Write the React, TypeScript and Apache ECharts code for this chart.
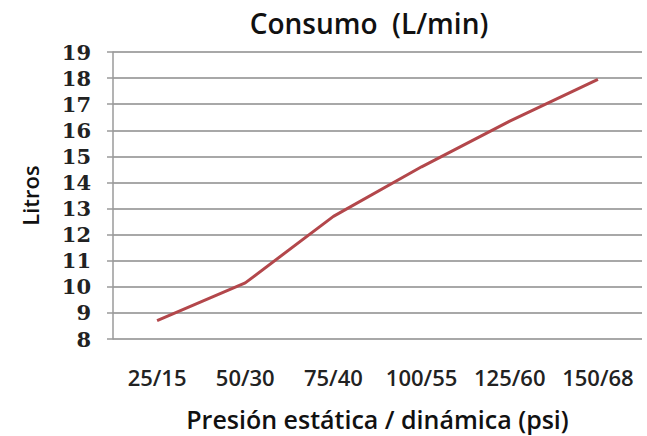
import React, { useEffect, useRef } from "react";
import * as echarts from "echarts";

const categories = ["25/15", "50/30", "75/40", "100/55", "125/60", "150/68"];
const consumo = [8.7, 10.15, 12.7, 14.6, 16.35, 17.95];
const titleText = "Consumo  (L/min)";
const yName = "Litros";
const xName = "Presión estática / dinámica (psi)";

export default function App() {
  const ref = useRef<HTMLDivElement>(null);
  useEffect(() => {
    if (!ref.current) return;
    const chart = echarts.init(ref.current, undefined, { renderer: "svg" });
    const sans = "'Open Sans', 'Noto Sans', sans-serif";
    const serif = "'DejaVu Serif', serif";
    chart.setOption({
      animation: false,
      backgroundColor: "#ffffff",
      title: {
        text: titleText,
        left: 364,
        top: 4,
        textAlign: "center",
        textStyle: { fontFamily: sans, fontSize: 28, fontWeight: 600, color: "#111" },
      },
      grid: { left: 113, right: 5, top: 52, bottom: 97, containLabel: false },
      xAxis: {
        type: "category",
        data: categories,
        boundaryGap: true,
        axisLine: { show: false },
        axisTick: { show: false },
        axisLabel: {
          interval: 0,
          hideOverlap: false,
          margin: 27,
          fontFamily: sans,
          fontSize: 22,
          fontWeight: 600,
          color: "#222",
        },
        name: xName,
        nameLocation: "middle",
        nameGap: 67,
        nameTextStyle: { fontFamily: sans, fontSize: 25, fontWeight: 600, color: "#111" },
      },
      yAxis: {
        type: "value",
        min: 8,
        max: 19,
        interval: 1,
        axisLine: { show: true, lineStyle: { color: "#9a9a9a", width: 1.5 } },
        axisTick: { show: true, length: 6, lineStyle: { color: "#9a9a9a", width: 1.5 } },
        splitLine: { show: true, lineStyle: { color: "#a8a8a8", width: 2 } },
        axisLabel: {
          margin: 22,
          fontFamily: serif,
          fontSize: 21,
          fontWeight: "bold",
          color: "#222",
        },
        name: yName,
        nameLocation: "middle",
        nameGap: 72,
        nameRotate: 90,
        nameTextStyle: { fontFamily: sans, fontSize: 22, fontWeight: 600, color: "#111" },
      },
      series: [
        {
          type: "line",
          data: consumo,
          symbol: "none",
          smooth: false,
          lineStyle: { color: "#b3474b", width: 3 },
        },
      ],
    });
    return () => chart.dispose();
  }, []);
  return (
    <div
      ref={ref}
      style={{ position: "fixed", left: 0, top: 0, width: 647, height: 436, background: "#fff" }}
    />
  );
}
